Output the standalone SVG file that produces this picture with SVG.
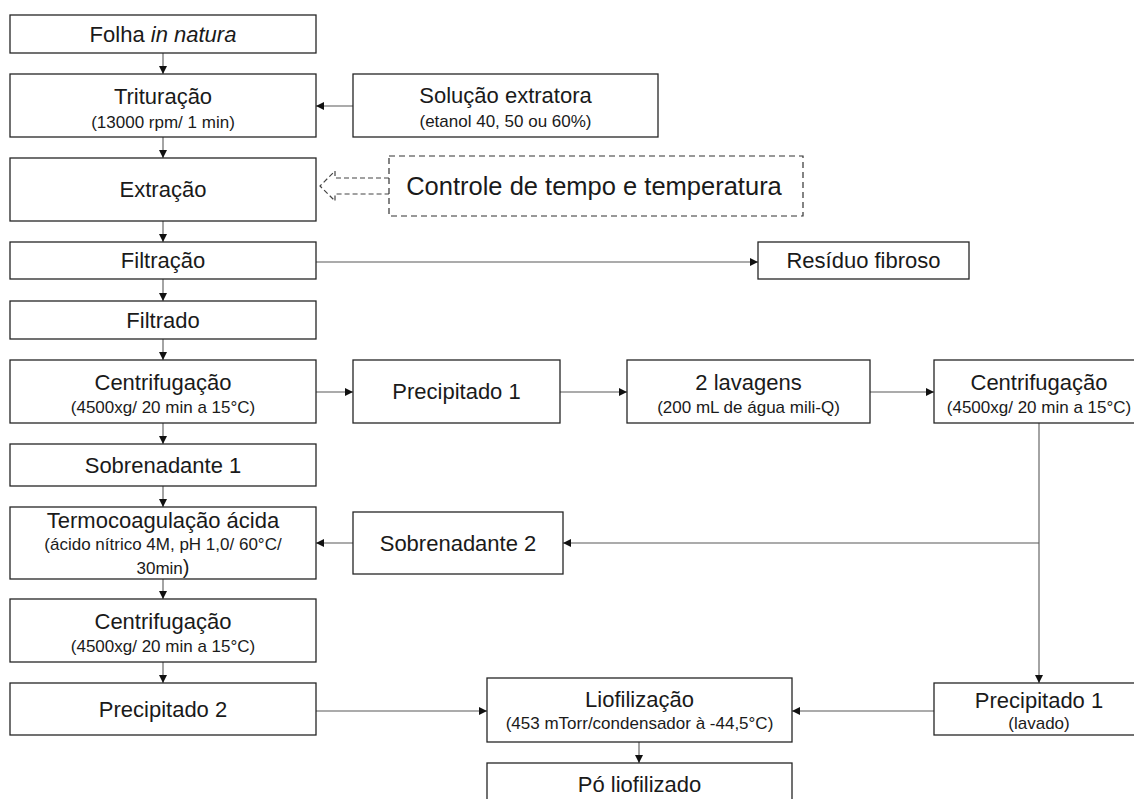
<svg xmlns="http://www.w3.org/2000/svg" width="1134" height="799" viewBox="0 0 1134 799">
  <style>
    .box { fill: #ffffff; stroke: #262626; stroke-width: 1.3; }
    .dbox { fill: #ffffff; stroke: #333333; stroke-width: 1.2; stroke-dasharray: 6 4; }
    .t { font-family: "Liberation Sans", Arial, sans-serif; font-size: 22px; fill: #1a1a1a; text-anchor: middle; }
    .s { font-family: "Liberation Sans", Arial, sans-serif; font-size: 17px; fill: #1a1a1a; text-anchor: middle; }
    .big { font-family: "Liberation Sans", Arial, sans-serif; font-size: 25.5px; fill: #1a1a1a; text-anchor: middle; }
    .arr { fill: none; stroke: #595959; stroke-width: 1.1; marker-end: url(#head); }
    .dash { fill: none; stroke: #444444; stroke-width: 1.2; stroke-dasharray: 5 3; }
  </style>
  <defs>
    <marker id="head" viewBox="0 0 10 10" refX="10" refY="5" markerUnits="userSpaceOnUse" markerWidth="8" markerHeight="8" orient="auto">
      <path d="M0,0 L10,5 L0,10 Z" fill="#111111"/>
    </marker>
  </defs>
  <rect width="1134" height="799" fill="#ffffff"/>

  <!-- connectors -->
  <g id="connectors">
    <line class="arr" x1="163" y1="53" x2="163" y2="74"/>
    <line class="arr" x1="163" y1="137" x2="163" y2="158"/>
    <line class="arr" x1="163" y1="221" x2="163" y2="242"/>
    <line class="arr" x1="163" y1="279" x2="163" y2="301"/>
    <line class="arr" x1="163" y1="339" x2="163" y2="360"/>
    <line class="arr" x1="163" y1="423" x2="163" y2="444"/>
    <line class="arr" x1="163" y1="486" x2="163" y2="507"/>
    <line class="arr" x1="163" y1="579" x2="163" y2="599"/>
    <line class="arr" x1="163" y1="662" x2="163" y2="683"/>
    <line class="arr" x1="353" y1="106" x2="316" y2="106"/>
    <line class="arr" x1="316" y1="262" x2="758" y2="262"/>
    <line class="arr" x1="316" y1="392" x2="353" y2="392"/>
    <line class="arr" x1="560" y1="392" x2="627" y2="392"/>
    <line class="arr" x1="870" y1="392" x2="934" y2="392"/>
    <line class="arr" x1="1039" y1="423" x2="1039" y2="683"/>
    <line class="arr" x1="1039" y1="543" x2="563" y2="543"/>
    <line class="arr" x1="353" y1="543" x2="316" y2="543"/>
    <line class="arr" x1="316" y1="711" x2="487" y2="711"/>
    <line class="arr" x1="934" y1="711" x2="792" y2="711"/>
    <line class="arr" x1="639" y1="742" x2="639" y2="763"/>
    <!-- hollow dashed arrow pointing at Extração -->
    <polyline class="dash" points="389,178 335,178 335,171 320,186 335,201 335,194 389,194"/>
  </g>

  <g id="folha">
    <rect class="box" x="10" y="15" width="306" height="38"/>
    <text class="t" x="163" y="42">Folha <tspan font-style="italic">in natura</tspan></text>
  </g>
  <g id="trituracao">
    <rect class="box" x="10" y="74" width="306" height="63"/>
    <text class="t" x="163" y="104">Trituração</text>
    <text class="s" x="163" y="128">(13000 rpm/ 1 min)</text>
  </g>
  <g id="solucao">
    <rect class="box" x="353" y="74" width="305" height="63"/>
    <text class="t" x="505.5" y="103">Solução extratora</text>
    <text class="s" x="505.5" y="127">(etanol 40, 50 ou 60%)</text>
  </g>
  <g id="extracao">
    <rect class="box" x="10" y="158" width="306" height="63"/>
    <text class="t" x="163" y="197">Extração</text>
  </g>
  <g id="controle">
    <rect class="dbox" x="389" y="156" width="414" height="60"/>
    <text class="big" x="594" y="195">Controle de tempo e temperatura</text>
  </g>
  <g id="filtracao">
    <rect class="box" x="10" y="242" width="306" height="37"/>
    <text class="t" x="163" y="268">Filtração</text>
  </g>
  <g id="residuo">
    <rect class="box" x="758" y="242" width="211" height="37"/>
    <text class="t" x="863.5" y="268">Resíduo fibroso</text>
  </g>
  <g id="filtrado">
    <rect class="box" x="10" y="301" width="306" height="38"/>
    <text class="t" x="163" y="328">Filtrado</text>
  </g>
  <g id="centrifugacao1">
    <rect class="box" x="10" y="360" width="306" height="63"/>
    <text class="t" x="163" y="390">Centrifugação</text>
    <text class="s" x="163" y="413">(4500xg/ 20 min a 15°C)</text>
  </g>
  <g id="precipitado1">
    <rect class="box" x="353" y="360" width="207" height="63"/>
    <text class="t" x="456.5" y="399">Precipitado 1</text>
  </g>
  <g id="lavagens">
    <rect class="box" x="627" y="360" width="243" height="63"/>
    <text class="t" x="748.5" y="390">2 lavagens</text>
    <text class="s" x="748.5" y="413">(200 mL de água mili-Q)</text>
  </g>
  <g id="centrifugacao-lavado">
    <rect class="box" x="934" y="360" width="210" height="63"/>
    <text class="t" x="1039" y="390">Centrifugação</text>
    <text class="s" x="1039" y="413">(4500xg/ 20 min a 15°C)</text>
  </g>
  <g id="sobrenadante1">
    <rect class="box" x="10" y="444" width="306" height="42"/>
    <text class="t" x="163" y="473">Sobrenadante 1</text>
  </g>
  <g id="termocoagulacao">
    <rect class="box" x="10" y="507" width="306" height="72"/>
    <text class="t" x="163" y="528">Termocoagulação ácida</text>
    <text class="s" x="163" y="550">(ácido nítrico 4M, pH 1,0/ 60°C/</text>
    <text class="s" x="163" y="574">30min<tspan font-size="20">)</tspan></text>
  </g>
  <g id="sobrenadante2">
    <rect class="box" x="353" y="512" width="210" height="62"/>
    <text class="t" x="458" y="551">Sobrenadante 2</text>
  </g>
  <g id="centrifugacao2">
    <rect class="box" x="10" y="599" width="306" height="63"/>
    <text class="t" x="163" y="629">Centrifugação</text>
    <text class="s" x="163" y="652">(4500xg/ 20 min a 15°C)</text>
  </g>
  <g id="precipitado2">
    <rect class="box" x="10" y="683" width="306" height="52"/>
    <text class="t" x="163" y="717">Precipitado 2</text>
  </g>
  <g id="liofilizacao">
    <rect class="box" x="487" y="678" width="305" height="64"/>
    <text class="t" x="639.5" y="707">Liofilização</text>
    <text class="s" x="639.5" y="729">(453 mTorr/condensador à -44,5°C)</text>
  </g>
  <g id="precipitado1-lavado">
    <rect class="box" x="934" y="683" width="210" height="52"/>
    <text class="t" x="1039" y="708">Precipitado 1</text>
    <text class="s" x="1039" y="729">(lavado)</text>
  </g>
  <g id="po">
    <rect class="box" x="487" y="763" width="305" height="44"/>
    <text class="t" x="639.5" y="792">Pó liofilizado</text>
  </g>
</svg>
